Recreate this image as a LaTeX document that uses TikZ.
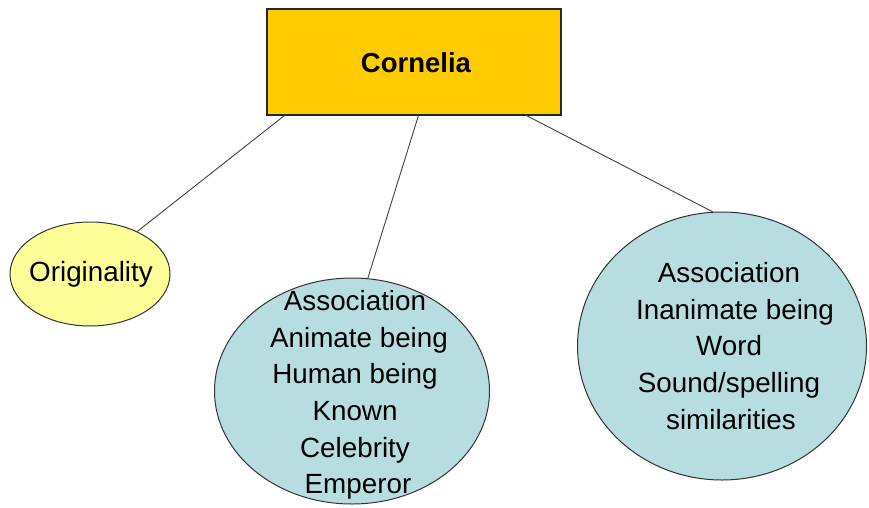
\documentclass[tikz,border=0pt]{standalone}
\usepackage{fontspec}
\setmainfont{Liberation Sans}
\usetikzlibrary{shapes.geometric}
\definecolor{rootfill}{HTML}{FFCC00}
\definecolor{paleyellow}{HTML}{FFFF99}
\definecolor{paleblue}{HTML}{B7DDE1}
\begin{document}
\begin{tikzpicture}[x=1pt,y=-1pt,
  rootbox/.style={draw=black!85,line width=1.1pt,fill=rootfill,inner sep=0pt,
    minimum width=294pt,minimum height=106pt},
  bubble/.style={ellipse,draw=black!80,line width=1pt,inner sep=0pt},
  bubbletext/.style={align=center,font=\fontsize{27.8}{36.6}\selectfont},
  link/.style={draw=black!75,line width=0.9pt}]
  \useasboundingbox (0,0) rectangle (869,508);

  % root
  \node[rootbox] (root) at (414,62) {};
  \node[font=\bfseries\fontsize{27.5}{30}\selectfont] (rootlabel) at (416,63) {Cornelia};

  % child bubbles
  \node[bubble,fill=paleyellow,minimum width=160pt,minimum height=104pt] (orig) at (90,274) {};
  \node[bubble,fill=paleblue,minimum width=275pt,minimum height=226pt] (anim) at (352,391) {};
  \node[bubble,fill=paleblue,minimum width=289pt,minimum height=268pt] (inan) at (722,346) {};

  % bubble texts
  \node[bubbletext] (origtext) at (91,274) {Originality};
  \node[bubbletext] (animtext) at (355,395) {Association\\
    \hspace*{8pt}Animate being\\
    Human being\hspace*{6pt}\\
    Known\hspace*{8pt}\\
    Celebrity\hspace*{4pt}\\
    \hspace*{6pt}Emperor};
  \node[bubbletext] (inantext) at (729,346) {Association\\
    \hspace*{12pt}Inanimate being\\
    Word\\
    Sound/spelling\hspace*{8pt}\\
    \hspace*{4pt}similarities};

  % connectors
  \draw[link] ([xshift=18pt]root.south west) -- (orig.42);
  \draw[link] ([xshift=152pt]root.south west) -- (anim.82);
  \draw[link] ([xshift=260pt]root.south west) -- (inan.94);
\end{tikzpicture}
\end{document}
